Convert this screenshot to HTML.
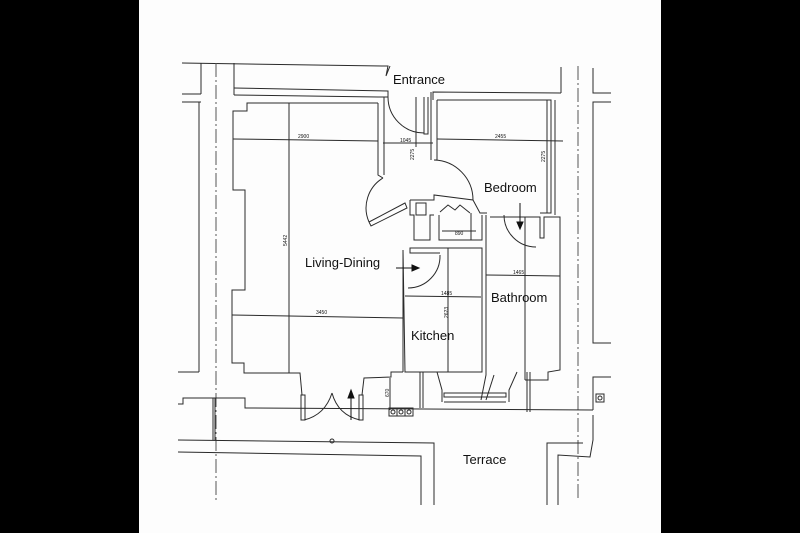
<!DOCTYPE html>
<html><head><meta charset="utf-8"><style>
html,body{margin:0;padding:0;background:#000;}
svg{display:block}
text{font-family:"Liberation Sans",sans-serif;fill:#111}
.d{font-size:5px;fill:#444}
</style></head><body>
<svg width="800" height="533" viewBox="0 0 800 533" xmlns="http://www.w3.org/2000/svg">
<rect x="0" y="0" width="800" height="533" fill="#000"/>
<rect x="139" y="0" width="522" height="533" fill="#fdfdfd"/>
<g fill="none" stroke="#2a2a2a" stroke-width="1">
<!-- top wall -->
<polyline points="182,63 384,66 388,66 386,76 390,66"/>
<line x1="201" y1="63" x2="201" y2="94"/>
<line x1="182" y1="94" x2="201" y2="94"/>
<line x1="182" y1="102" x2="201" y2="102"/>
<line x1="199" y1="102" x2="199" y2="372"/>
<line x1="178" y1="372" x2="199" y2="372"/>
<line x1="234" y1="63" x2="234" y2="95"/>
<polyline points="234,88 388,91 388,97 378,97"/>
<polyline points="234,95 378,97"/>
<!-- dashed axes -->
<line x1="216" y1="63" x2="216" y2="500" stroke-dasharray="14,3,2,3" stroke="#555"/>
<line x1="578" y1="66" x2="578" y2="500" stroke-dasharray="14,3,2,3" stroke="#555"/>
<!-- right exterior -->
<line x1="561" y1="67" x2="561" y2="93"/>
<polyline points="433,100 433,92 561,93"/>
<polyline points="593,68 593,93 611,93"/>
<polyline points="611,102 593,102 593,343 611,343"/>
<polyline points="611,377 593,377 593,410"/>
<!-- living room outline -->
<polyline points="378,103 247,103 247,111 233,111 233,190 245,190 245,290 232,290 232,363 244,363 244,373 300,373 302,395"/>
<polyline points="378,103 378,175 383,178"/>
<polyline points="384,97 384,175"/>
<polyline points="362,395 364,378 391,377 391,372 403,372"/>
<!-- entrance door -->
<path d="M388,97 A36,36 0 0 0 424,133"/>
<polyline points="424,97 424,134 428,134 428,97"/>
<line x1="431" y1="92" x2="431" y2="160"/>
<polyline points="437,100 437,160 434,160"/>
<!-- living door -->
<path d="M383,178 A35,35 0 0 0 369,222"/>
<polyline points="369,222 405,203 407,208 371,226 369,222"/>
<!-- bedroom -->
<polyline points="437,100 551,100 551,213 540,213"/>
<polyline points="555,100 555,215"/>
<path d="M434,160 A40,40 0 0 1 473,200"/>
<polyline points="410,200 434,200 434,195 473,200 480,213 487,213"/>
<polyline points="410,200 410,215 414,215 414,240 430,240 430,215 434,215"/>
<rect x="416" y="203" width="10" height="12"/>
<polyline points="440,212 448,205 455,210 460,205 470,213"/>
<polyline points="439,215 439,240 482,240 482,215"/>
<line x1="442" y1="231" x2="476" y2="231"/>
<line x1="471" y1="213" x2="471" y2="240"/>
<!-- kitchen -->
<polyline points="403,250 405,372 482,372 482,248 410,248 410,253 440,253"/>
<path d="M440,255 A32,32 0 0 1 408,288"/>
<line x1="403" y1="250" x2="403" y2="372"/>
<line x1="448" y1="248" x2="448" y2="372"/>
<!-- bathroom -->
<polyline points="486,215 486,375 481,400"/>
<polyline points="490,217 540,217 540,238 544,238 544,217 560,217 560,370 548,372 548,380 525,380"/>
<line x1="525" y1="217" x2="525" y2="380"/>
<path d="M504,215 A32,32 0 0 0 536,247"/>
<line x1="494" y1="375" x2="486" y2="400"/>
<!-- dimension lines -->
<line x1="233" y1="139" x2="378" y2="141"/>
<line x1="383" y1="143" x2="433" y2="143"/>
<line x1="437" y1="139" x2="563" y2="141"/>
<line x1="416" y1="97" x2="416" y2="147"/>
<line x1="547" y1="100" x2="547" y2="213"/>
<line x1="289" y1="103" x2="289" y2="373"/>
<line x1="232" y1="315" x2="403" y2="318"/>
<line x1="405" y1="296" x2="481" y2="297"/>
<line x1="486" y1="275" x2="560" y2="276"/>
<line x1="390" y1="378" x2="390" y2="410"/>
<!-- bottom wall -->
<polyline points="178,404 183,404 183,398 245,398 245,408 593,410"/>
<line x1="213" y1="398" x2="213" y2="440"/>
<line x1="215" y1="398" x2="215" y2="440"/>
<!-- french doors -->
<rect x="301" y="395" width="4" height="25"/>
<rect x="359" y="395" width="4" height="25"/>
<path d="M304,420 Q325,415 332,393"/>
<path d="M332,393 Q338,415 360,420"/>
<!-- window kitchen/bath -->
<polyline points="437,372 442,390 442,402"/>
<polyline points="517,372 509,390 509,402"/>
<rect x="444" y="393" width="62" height="4"/>
<line x1="444" y1="402" x2="506" y2="402"/>
<line x1="420" y1="372" x2="420" y2="408"/>
<line x1="423" y1="372" x2="423" y2="408"/>
<line x1="527" y1="372" x2="527" y2="412"/>
<line x1="530" y1="372" x2="530" y2="412"/>
<!-- outlets -->
<rect x="389" y="408" width="8" height="8"/><rect x="397" y="408" width="8" height="8"/><rect x="405" y="408" width="8" height="8"/>
<circle cx="393" cy="412" r="2"/><circle cx="401" cy="412" r="2"/><circle cx="409" cy="412" r="2"/>
<rect x="596" y="394" width="8" height="8"/><circle cx="600" cy="398" r="2"/>
<circle cx="332" cy="441" r="2"/>
<!-- terrace -->
<polyline points="178,440 434,443 434,505"/>
<polyline points="178,452 421,456 421,505"/>
<polyline points="547,505 547,443 583,443"/>
<polyline points="558,505 558,455 590,457 593,440 593,415"/>
</g>
<!-- arrows -->
<g stroke="#111" fill="#111">
<line x1="396" y1="268" x2="412" y2="268"/><polygon points="412,265 419,268 412,271"/>
<line x1="520" y1="203" x2="520" y2="222"/><polygon points="517,222 520,229 523,222"/>
<line x1="351" y1="420" x2="351" y2="398"/><polygon points="348,398 351,390 354,398"/>
</g>
<g class="d">
<text x="298" y="138">2900</text>
<text x="400" y="142">1045</text>
<text x="495" y="138">2455</text>
<text x="316" y="314">3450</text>
<text x="441" y="295">1485</text>
<text x="513" y="274">1465</text>
<text x="455" y="235">890</text>
<text transform="translate(414,160) rotate(-90)">2275</text>
<text transform="translate(545,162) rotate(-90)">2275</text>
<text transform="translate(287,246) rotate(-90)">5442</text>
<text transform="translate(448,318) rotate(-90)">2623</text>
<text transform="translate(389,397) rotate(-90)">670</text>
</g>
<g font-size="13">
<text x="393" y="84">Entrance</text>
<text x="484" y="192">Bedroom</text>
<text x="305" y="267">Living-Dining</text>
<text x="491" y="302">Bathroom</text>
<text x="411" y="340">Kitchen</text>
<text x="463" y="464">Terrace</text>
</g>
</svg>
</body></html>
